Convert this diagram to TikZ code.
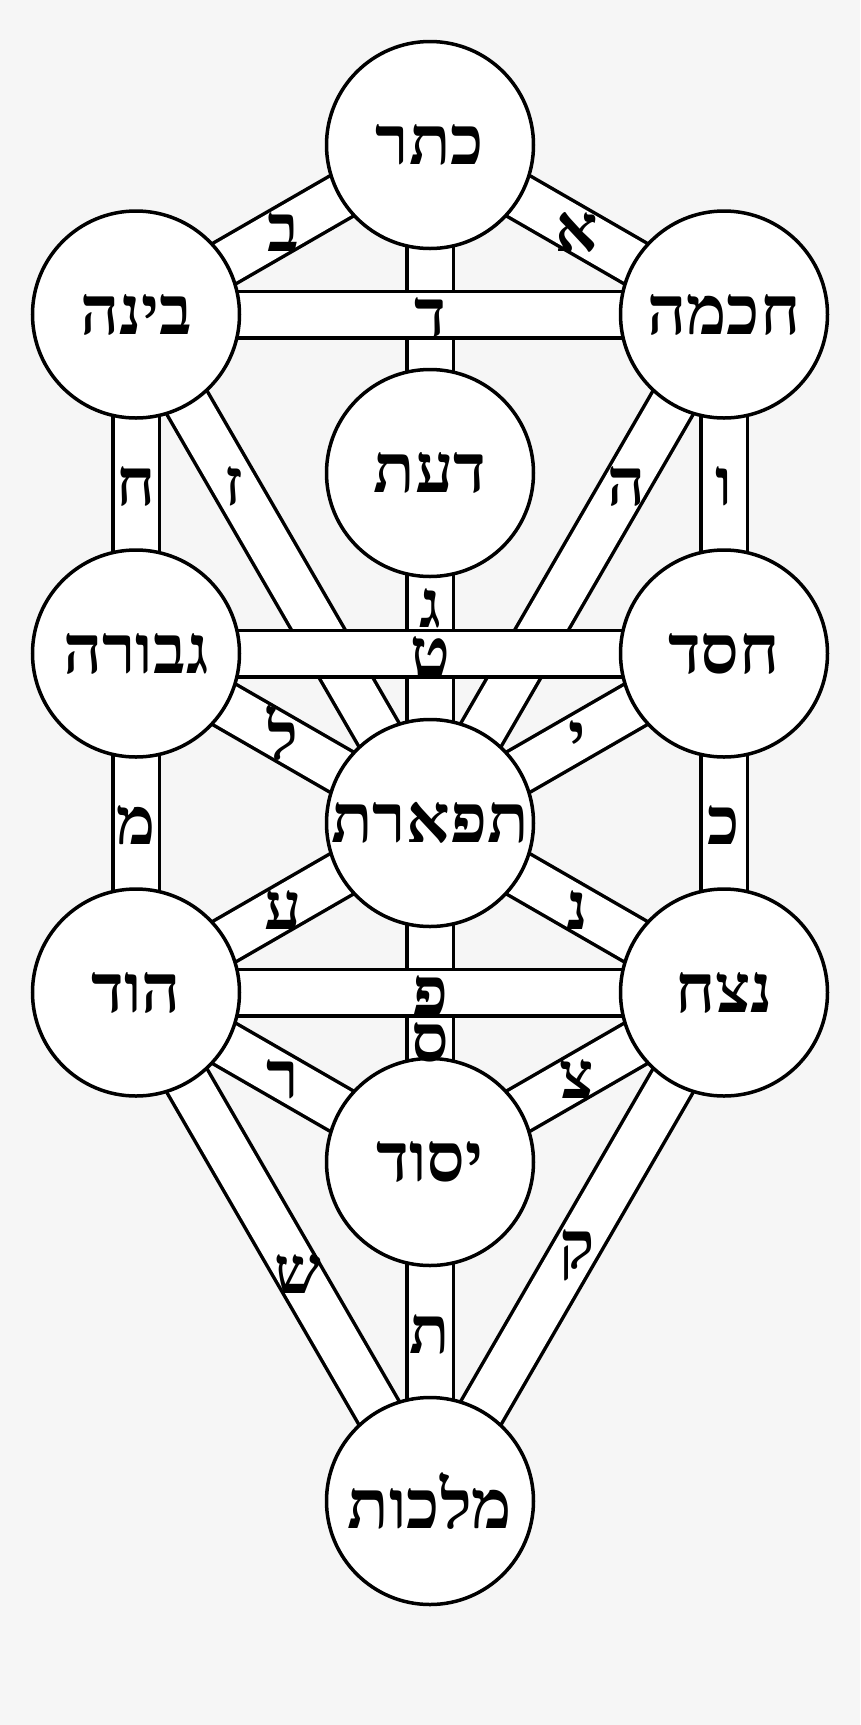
\documentclass[tikz,border=0pt]{standalone}
\usepackage{fontspec}
\newfontfamily\hebfont[Script=Hebrew]{Liberation Serif}
\TeXXeTstate=1
\usetikzlibrary{positioning, calc}
\pgfdeclarelayer{back}
\pgfdeclarelayer{paths}
\pgfsetlayers{back,paths,main}
\definecolor{bggray}{HTML}{F6F6F6}
\newcommand{\heb}[1]{\beginR#1\endR}

\begin{document}
\begin{tikzpicture}[
    x=1pt, y=-1pt,
    sefira/.style={circle, draw, line width=3.5pt, fill=white, minimum size=207pt, inner sep=0pt, font=\fontsize{68}{68}\hebfont\bfseries},
    band/.style={line width=3.5pt, double=white, double distance=43pt},
    letter/.style={font=\fontsize{66}{66}\hebfont\bfseries, inner sep=0pt, text height=43pt, text depth=0pt}
]
% Background
\begin{pgfonlayer}{back}
\fill[bggray] (0,0) rectangle (860,1725);
\end{pgfonlayer}

% Sefirot
\node[sefira] (keter)    at (430,145)    {\heb{כתר}};
\node[sefira] (chokhmah) at (724,314.5)  {\heb{חכמה}};
\node[sefira] (binah)    at (136,314.5)  {\heb{בינה}};
\node[sefira] (daat)     at (430,473)    {\heb{דעת}};
\node[sefira] (chesed)   at (724,653.5)  {\heb{חסד}};
\node[sefira] (gevurah)  at (136,653.5)  {\heb{גבורה}};
\node[sefira] (tiferet)  at (430,823)    {\heb{תפארת}};
\node[sefira] (netzach)  at (724,992.5)  {\heb{נצח}};
\node[sefira] (hod)      at (136,992.5)  {\heb{הוד}};
\node[sefira] (yesod)    at (430,1162)   {\heb{יסוד}};
\node[sefira] (malkhut)  at (430,1501)   {\heb{מלכות}};

% Paths
\begin{pgfonlayer}{paths}
\draw[band] (keter.center) -- (chokhmah.center);
\draw[band] (keter.center) -- (binah.center);
\draw[band] (keter.center) -- (tiferet.center);
\draw[band] (chokhmah.center) -- (tiferet.center);
\draw[band] (chokhmah.center) -- (chesed.center);
\draw[band] (binah.center) -- (tiferet.center);
\draw[band] (binah.center) -- (gevurah.center);
\draw[band] (chesed.center) -- (tiferet.center);
\draw[band] (chesed.center) -- (netzach.center);
\draw[band] (gevurah.center) -- (tiferet.center);
\draw[band] (gevurah.center) -- (hod.center);
\draw[band] (tiferet.center) -- (netzach.center);
\draw[band] (tiferet.center) -- (yesod.center);
\draw[band] (tiferet.center) -- (hod.center);
\draw[band] (netzach.center) -- (yesod.center);
\draw[band] (netzach.center) -- (malkhut.center);
\draw[band] (hod.center) -- (yesod.center);
\draw[band] (hod.center) -- (malkhut.center);
\draw[band] (yesod.center) -- (malkhut.center);
% horizontal ones on top
\draw[band] (chokhmah.center) -- (binah.center);
\draw[band] (chesed.center) -- (gevurah.center);
\draw[band] (netzach.center) -- (hod.center);
\end{pgfonlayer}

% Letters
\node[letter] (alef)   at ($(keter)!0.5!(chokhmah)$)   {\heb{א}};
\node[letter] (bet)    at ($(keter)!0.5!(binah)$)      {\heb{ב}};
\node[letter] (gimel)  at ($(keter)!0.68!(tiferet)$)   {\heb{ג}};
\node[letter] (dalet)  at ($(chokhmah)!0.5!(binah)$)   {\heb{ד}};
\node[letter] (he)     at ($(chokhmah)!0.333!(tiferet)$) {\heb{ה}};
\node[letter] (vav)    at ($(chokhmah)!0.5!(chesed)$)  {\heb{ו}};
\node[letter] (zayin)  at ($(binah)!0.333!(tiferet)$)  {\heb{ז}};
\node[letter] (het)    at ($(binah)!0.5!(gevurah)$)    {\heb{ח}};
\node[letter] (tet)    at ($(chesed)!0.5!(gevurah)$)   {\heb{ט}};
\node[letter] (yod)    at ($(chesed)!0.5!(tiferet)$)   {\heb{י}};
\node[letter] (kaf)    at ($(chesed)!0.5!(netzach)$)   {\heb{כ}};
\node[letter] (lamed)  at ($(gevurah)!0.5!(tiferet)$)  {\heb{ל}};
\node[letter] (mem)    at ($(gevurah)!0.5!(hod)$)      {\heb{מ}};
\node[letter] (nun)    at ($(tiferet)!0.5!(netzach)$)  {\heb{נ}};
\node[letter] (samekh) at ($(tiferet)!0.64!(yesod)$)   {\heb{ס}};
\node[letter] (ayin)   at ($(tiferet)!0.5!(hod)$)      {\heb{ע}};
\node[letter] (pe)     at ($(netzach)!0.5!(hod)$)      {\heb{פ}};
\node[letter] (tsadi)  at ($(netzach)!0.5!(yesod)$)    {\heb{צ}};
\node[letter] (qof)    at ($(netzach)!0.5!(malkhut)$)  {\heb{ק}};
\node[letter] (resh)   at ($(hod)!0.5!(yesod)$)        {\heb{ר}};
\node[letter] (shin)   at ($(hod)!0.55!(malkhut)$)     {\heb{ש}};
\node[letter] (tav)    at ($(yesod)!0.5!(malkhut)$)    {\heb{ת}};
\end{tikzpicture}
\end{document}
